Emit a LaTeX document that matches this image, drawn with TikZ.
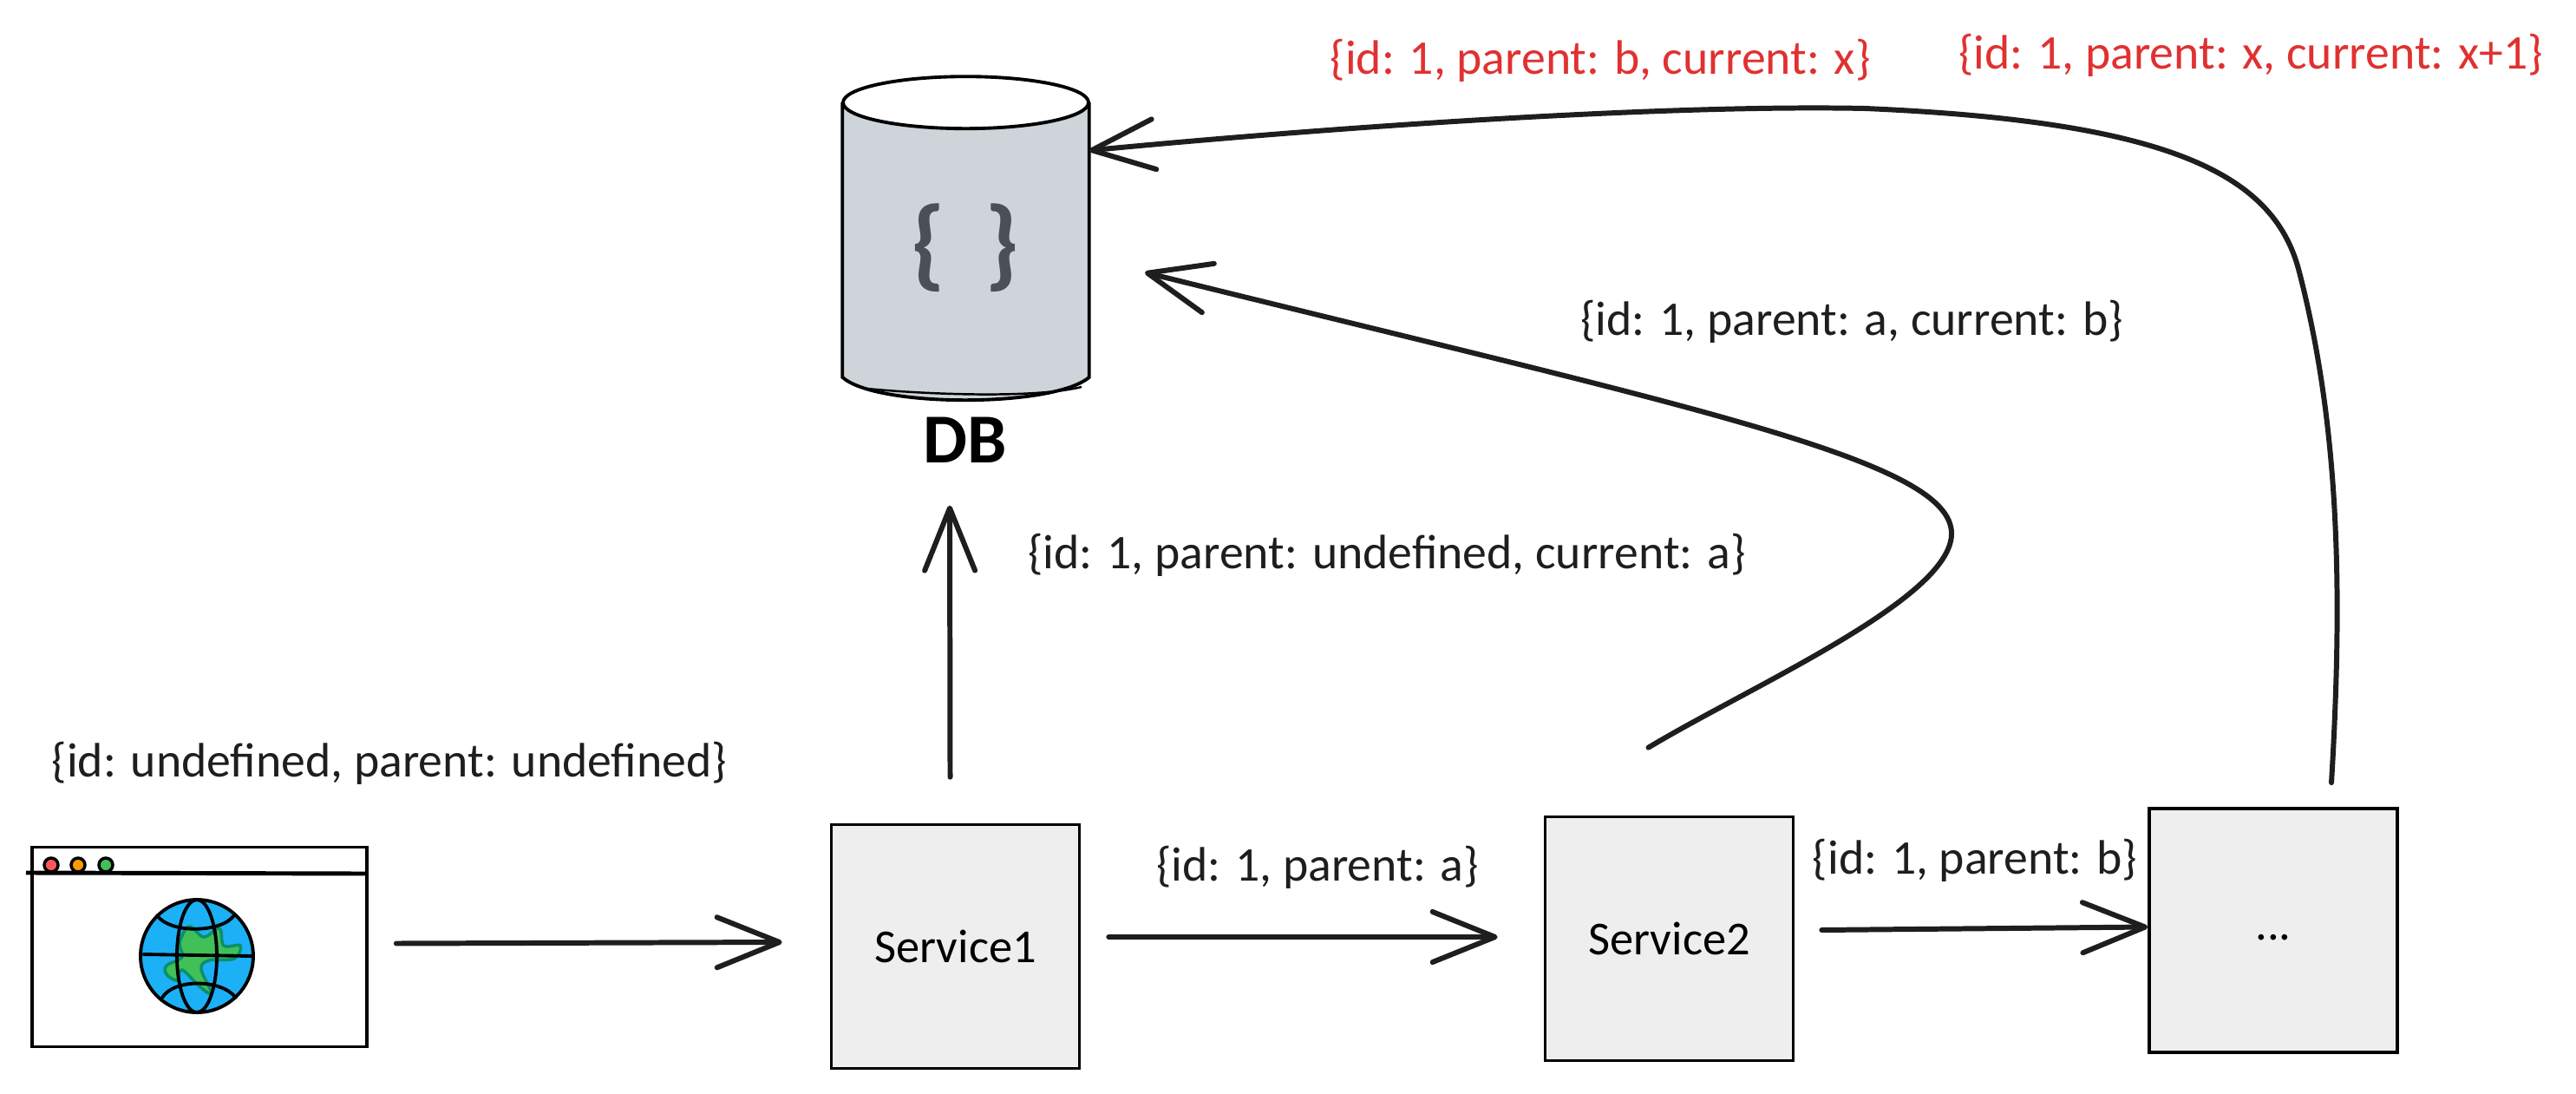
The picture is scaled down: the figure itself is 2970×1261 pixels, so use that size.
\documentclass[tikz,border=0pt]{standalone}
\usepackage{fontspec}
\setmainfont{Carlito}
\usetikzlibrary{arrows.meta}
\definecolor{ink}{HTML}{1E1E1E}
\definecolor{alert}{HTML}{E03131}
\definecolor{boxfill}{HTML}{EEEEEE}
\definecolor{dbfill}{HTML}{CED4DA}
\definecolor{braceink}{HTML}{495057}
\definecolor{ocean}{HTML}{1CB0F6}
\definecolor{land}{HTML}{40C057}
\definecolor{coast}{HTML}{0C8F6A}
\tikzset{
	service/.style={draw=black,fill=boxfill,line width=1pt,minimum width=2.86cm,minimum height=2.81cm,inner sep=0pt,font=\fontsize{15.5}{18}\selectfont},
	note/.style={text=ink,inner sep=0pt,font=\fontsize{15.85}{19}\selectfont},
	flow/.style={draw=ink,line width=1.7pt,line cap=round,-{Straight Barb[length=.72cm,width=.58cm,round]}},
	sketch/.style={draw=black,line width=1pt},
	globeline/.style={draw=black,line width=1.1pt,line cap=round}
}

\begin{document}
\begin{tikzpicture}[x=.01cm,y=-.01cm]
	\useasboundingbox (0,0) rectangle (2970,1261);

	\draw (1113.5,276.5) node[minimum width=2.83cm,minimum height=3.15cm,inner sep=0pt] (db) {};
	\filldraw[sketch,line width=1.1pt,fill=dbfill] (db.north west) -- (db.south west) .. controls (1010,470) and (1215,470) .. (db.south east) -- (db.north east);
	\filldraw[sketch,line width=1.1pt,fill=white] (db.north) ellipse (141.5 and 30);
	\draw[sketch,line width=.7pt] (1000,448) .. controls (1060,454) and (1190,460) .. (1247,446);
	\draw (1113,286) node[text=braceink,inner sep=0pt,font=\fontsize{33}{36}\bfseries\selectfont] (dbicon) {\{\hspace{.45cm}\}};
	\draw (1113,507) node[text=black,font=\fontsize{23}{25}\bfseries\selectfont] (dblabel) {DB};

	\draw (230,1091.5) node[sketch,fill=white,minimum width=3.86cm,minimum height=2.30cm] (browser) {};
	\draw[sketch,line width=1.4pt] (30,1006) -- (423,1007);
	\filldraw[sketch,fill=red!65!white] (59,997) circle (8);
	\filldraw[sketch,fill=orange!80!yellow] (90,997) circle (8);
	\filldraw[sketch,fill=land] (122,997) circle (8);

	\filldraw[globeline,fill=ocean] (227,1102) circle (65);
	\filldraw[draw=coast,line width=1pt,fill=land] plot[smooth cycle,tension=.6] coordinates {(218,1068) (235,1080) (253,1070) (258,1090) (277,1090) (270,1105) (241,1107) (232,1117) (244,1145) (230,1137) (210,1118) (204,1130) (192,1123) (192,1113) (210,1103) (207,1087)};
	\draw[globeline] (227,1102) ellipse (23 and 65);
	\draw[globeline] (165,1100) -- (290,1102);
	\draw[globeline] (181,1055) .. controls (195,1076) and (255,1076) .. (270,1055);
	\draw[globeline] (187,1150) .. controls (200,1128) and (255,1128) .. (272,1150);

	\draw (1101.5,1091) node[service] (service1) {Service1};
	\draw (1924.5,1082) node[service] (service2) {Service2};
	\draw (2621,1072.5) node[service] (service3) {\smash{\raisebox{-.11cm}{...}}};

	\draw (449,880) node[note] (notestart) {\{id: undefined, parent: undefined\}};
	\draw (1519,1000) node[note] (noteone) {\{id: 1, parent: a\}};
	\draw (2277,992) node[note] (notetwo) {\{id: 1, parent: b\}};
	\draw (1599,640) node[note] (notedb) {\{id: 1, parent: undefined, current: a\}};
	\draw (2135,371) node[note] (noteback) {\{id: 1, parent: a, current: b\}};
	\draw (1845,70) node[note,text=alert] (notex) {\{id: 1, parent: b, current: x\}};
	\draw (2595,64) node[note,text=alert] (notexx) {\{id: 1, parent: x, current: x+1\}};

	\draw[flow] ([shift={(32,-4)}]browser.east) -- ([shift={(-55,-5)}]service1.west);
	\draw[flow] ([shift={(32,-11)}]service1.east) -- ([shift={(-53,-2)}]service2.west);
	\draw[flow] ([shift={(31,-10)}]service2.east) -- ([shift={(0,-4)}]service3.west);
	\draw[flow] ([shift={(-6,-53)}]service1.north) -- ([shift={(-18,37)}]dblabel.south);
	\draw[flow] ([shift={(-24,-78)}]service2.north) .. controls (2020,790) and (2250,690) .. (2250,615) .. controls (2250,530) and (1950,470) .. (1320,314);
	\draw[flow] ([shift={(67,-28)}]service3.north) .. controls (2700,700) and (2700,500) .. (2650,310) .. controls (2620,200) and (2500,140) .. (2150,125) .. controls (1900,120) and (1500,150) .. ([yshift=1.03cm]db.east);
\end{tikzpicture}
\end{document}
